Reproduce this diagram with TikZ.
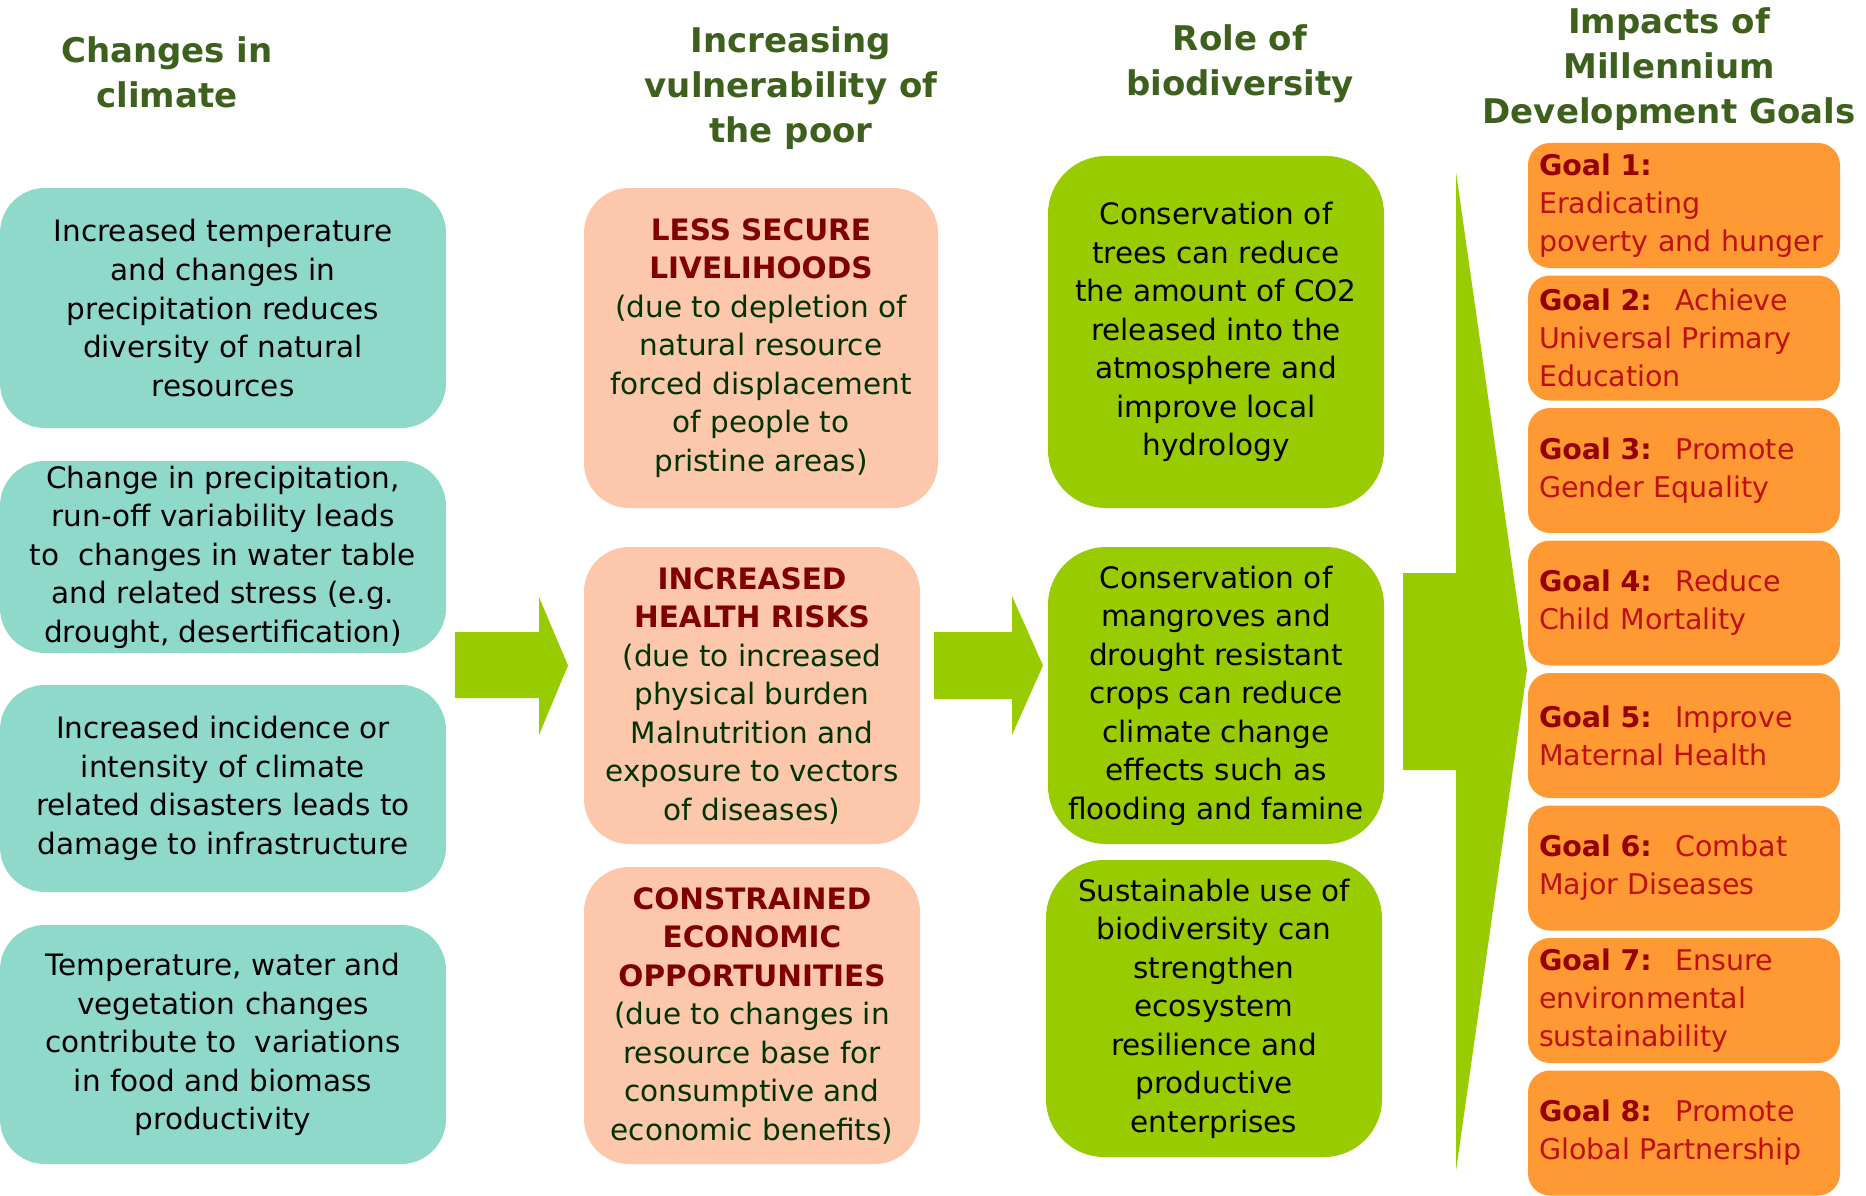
\documentclass[tikz,border=0pt]{standalone}
\usepackage{fontspec}
\setmainfont{DejaVu Sans}
\usetikzlibrary{positioning}

\definecolor{headgreen}{RGB}{61,96,28}
\definecolor{climteal}{RGB}{143,217,203}
\definecolor{poorpeach}{RGB}{252,199,171}
\definecolor{biogreen}{RGB}{153,204,0}
\definecolor{goalorange}{RGB}{255,153,51}
\definecolor{riskred}{RGB}{128,0,0}
\definecolor{poortext}{RGB}{0,51,0}
\definecolor{goalred}{RGB}{150,0,0}
\definecolor{goaltext}{RGB}{190,16,16}

\newcommand{\risk}[1]{\textcolor{riskred}{\textbf{#1}}}
\newcommand{\goalno}[1]{\textcolor{goalred}{\textbf{Goal #1:}}}

\begin{document}
\begin{tikzpicture}[
    x=1pt, y=-1pt,
    header/.style={align=center, text=headgreen, font=\fontsize{34}{45}\selectfont\bfseries},
    box/.style={rectangle, rounded corners=45pt, align=center, inner sep=0pt, outer sep=0pt, font=\fontsize{29.5}{38.5}\selectfont},
    climbox/.style={box, fill=climteal, minimum width=446pt},
    poorbox/.style={box, fill=poorpeach, text=poortext, minimum width=336pt},
    biobox/.style={box, fill=biogreen, minimum width=336pt, rounded corners=58pt},
    goalbox/.style={rectangle, rounded corners=22pt, fill=goalorange, text=goaltext, minimum width=312pt, minimum height=125pt, text width=290pt, align=left, inner xsep=11pt, inner ysep=0pt, outer sep=0pt, font=\fontsize{28.5}{38}\selectfont},
    blockarrow/.style={fill=biogreen}
]
\useasboundingbox (0,0) rectangle (1866,1196);
\fill[white] (0,0) rectangle (1866,1196);

% Headers
\node[header] (h1) at (167,72.5) {Changes in\\climate};
\node[header] (h2) at (791,88) {Increasing\\vulnerability of\\the poor};
\node[header] (h3) at (1240,64) {Role of\\biodiversity};
\node[header] (h4) at (1669,69) {Impacts of\\Millennium\\Development Goals};

% Changes in climate
\node[climbox, minimum height=240pt, anchor=north] (c1) at (223,188) {Increased temperature\\and changes in\\precipitation reduces\\diversity of natural\\resources};
\node[climbox, minimum height=192pt, below=33pt of c1] (c2) {Change in precipitation,\\run-off variability leads\\to~ changes in water table\\and related stress (e.g.\\drought, desertification)};
\node[climbox, minimum height=207pt, below=32pt of c2] (c3) {Increased incidence or\\intensity of climate\\related disasters leads to\\damage to infrastructure};
\node[climbox, minimum height=239pt, below=33pt of c3] (c4) {Temperature, water and\\vegetation changes\\contribute to~ variations\\in food and biomass\\productivity};

% Vulnerability of the poor
\node[poorbox, minimum width=354pt, minimum height=320pt, anchor=north] (p1) at (761,188) {\risk{LESS SECURE}\\\risk{LIVELIHOODS}\\(due to depletion of\\natural resource\\forced displacement\\of people to\\pristine areas)};
\node[poorbox, minimum height=297pt, below=39pt of p1, xshift=-9pt] (p2) {\risk{INCREASED}\\\risk{HEALTH RISKS}\\(due to increased\\physical burden\\Malnutrition and\\exposure to vectors\\of diseases)};
\node[poorbox, minimum height=297pt, below=23pt of p2] (p3) {\risk{CONSTRAINED}\\\risk{ECONOMIC}\\\risk{OPPORTUNITIES}\\(due to changes in\\resource base for\\consumptive and\\economic benefits)};

% Role of biodiversity
\node[biobox, minimum height=352pt, anchor=north] (b1) at (1216,156) {Conservation of\\trees can reduce\\the amount of CO2\\released into the\\atmosphere and\\improve local\\hydrology};
\node[biobox, minimum height=297pt, below=39pt of b1] (b2) {Conservation of\\mangroves and\\drought resistant\\crops can reduce\\climate change\\effects such as\\flooding and famine};
\node[biobox, minimum height=297pt, below=16pt of b2, xshift=-2pt] (b3) {Sustainable use of\\biodiversity can\\strengthen\\ecosystem\\resilience and\\productive\\enterprises};

% Goals
\node[goalbox, anchor=north] (m1) at (1684,143) {\goalno{1}\\Eradicating\\poverty and hunger};
\node[goalbox, below=7.5pt of m1] (m2) {\goalno{2}~ Achieve\\Universal Primary\\Education};
\node[goalbox, below=7.5pt of m2] (m3) {\goalno{3}~ Promote\\Gender Equality};
\node[goalbox, below=7.5pt of m3] (m4) {\goalno{4}~ Reduce\\Child Mortality};
\node[goalbox, below=7.5pt of m4] (m5) {\goalno{5}~ Improve\\Maternal Health};
\node[goalbox, below=7.5pt of m5] (m6) {\goalno{6}~ Combat\\Major Diseases};
\node[goalbox, below=7.5pt of m6] (m7) {\goalno{7}~ Ensure\\environmental\\sustainability};
\node[goalbox, below=7.5pt of m7] (m8) {\goalno{8}~ Promote\\Global Partnership};

% Arrows
\fill[blockarrow] (455,632) -- (539,632) -- (539,597) -- (568,665.5) -- (539,735) -- (539,698) -- (455,698) -- cycle;
\fill[blockarrow] (934,632) -- (1012,632) -- (1012,596) -- (1043,665.5) -- (1012,735) -- (1012,699) -- (934,699) -- cycle;
\fill[blockarrow] (1403,573) -- (1456,573) -- (1456,172) -- (1527,670) -- (1456,1171) -- (1456,770) -- (1403,770) -- cycle;
\end{tikzpicture}
\end{document}
